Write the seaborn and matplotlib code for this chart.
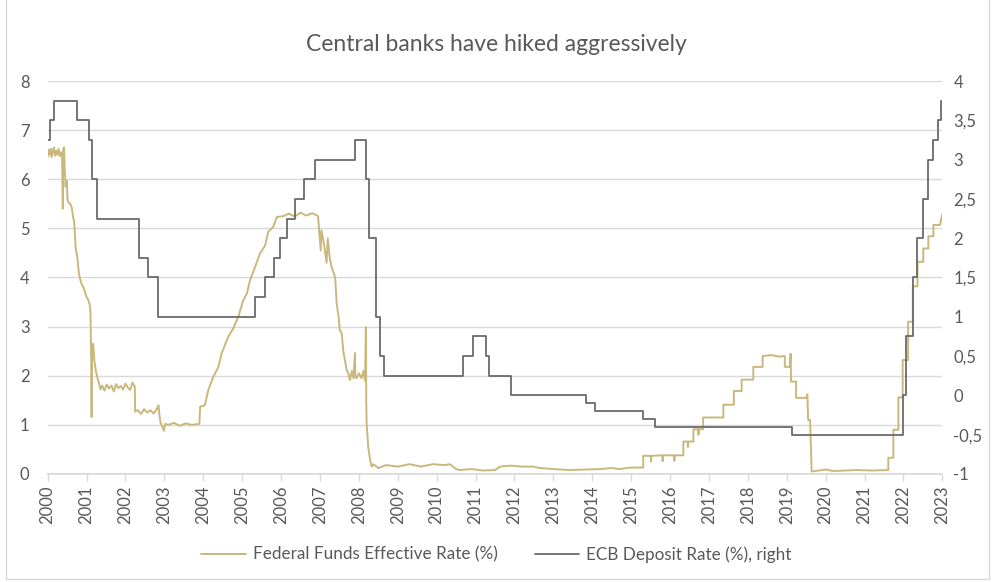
import pandas as pd
import seaborn as sns
import matplotlib
matplotlib.use("Agg")
import matplotlib.pyplot as plt
from matplotlib.lines import Line2D
from matplotlib.patches import Rectangle

# years since 2000 (position on the category axis) and rate
fed_years = [0.00, 0.03, 0.05, 0.08, 0.10, 0.13, 0.16, 0.19, 0.22, 0.25, 0.28, 0.31, 0.34, 0.37, 0.39, 0.40,
             0.42, 0.44, 0.46, 0.49, 0.51, 0.53, 0.58, 0.62, 0.66, 0.68, 0.70, 0.72, 0.76, 0.80, 0.83, 0.88,
             0.92, 0.96, 1.00, 1.04, 1.08, 1.10, 1.12, 1.13, 1.14, 1.17, 1.20, 1.24, 1.28, 1.32, 1.36, 1.40,
             1.46, 1.52, 1.58, 1.64, 1.70, 1.76, 1.82, 1.88, 1.94, 2.00, 2.06, 2.12, 2.18, 2.24, 2.25, 2.32,
             2.40, 2.48, 2.56, 2.64, 2.72, 2.80, 2.85, 2.87, 2.90, 2.99, 3.02, 3.10, 3.25, 3.40, 3.55, 3.70,
             3.90, 3.92, 4.04, 4.13, 4.26, 4.39, 4.47, 4.64, 4.77, 4.90, 5.03, 5.12, 5.20, 5.33, 5.46, 5.59,
             5.67, 5.80, 5.89, 6.06, 6.20, 6.35, 6.50, 6.65, 6.80, 6.95, 7.02, 7.04, 7.10, 7.17, 7.20, 7.25,
             7.30, 7.35, 7.39, 7.43, 7.48, 7.51, 7.56, 7.60, 7.64, 7.69, 7.73, 7.77, 7.82, 7.86, 7.90, 7.91,
             7.94, 8.00, 8.07, 8.12, 8.16, 8.18, 8.19, 8.20, 8.24, 8.29, 8.33, 8.37, 8.50, 8.70, 9.00, 9.30,
             9.60, 9.90, 10.20, 10.34, 10.50, 10.60, 10.90, 11.20, 11.50, 11.63, 11.90, 12.20, 12.48, 12.66, 13.00, 13.40,
             13.80, 14.20, 14.50, 14.70, 14.97, 15.31, 15.31, 15.50, 15.51, 15.52, 15.80, 15.81, 15.82, 16.10, 16.11, 16.12,
             16.34, 16.34, 16.45, 16.46, 16.47, 16.60, 16.60, 16.72, 16.73, 16.74, 16.85, 16.85, 17.10, 17.37, 17.37, 17.64,
             17.64, 17.84, 17.84, 18.14, 18.14, 18.38, 18.38, 18.60, 18.80, 18.95, 18.95, 19.08, 19.10, 19.11, 19.24, 19.24,
             19.51, 19.53, 19.55, 19.60, 19.64, 19.90, 20.00, 20.20, 20.50, 20.80, 21.20, 21.61, 21.61, 21.74, 21.74, 21.87,
             21.87, 21.98, 21.98, 22.12, 22.12, 22.24, 22.24, 22.36, 22.36, 22.51, 22.51, 22.64, 22.64, 22.77, 22.77, 22.94,
             23.00]
fed_rates = [6.45, 6.60, 6.50, 6.62, 6.45, 6.55, 6.65, 6.48, 6.58, 6.50, 6.62, 6.47, 6.55, 6.50, 5.40, 6.60,
             6.65, 6.20, 5.85, 5.97, 5.60, 5.53, 5.50, 5.42, 5.20, 5.15, 4.90, 4.60, 4.42, 4.10, 3.98, 3.85,
             3.80, 3.70, 3.60, 3.55, 3.45, 3.30, 2.30, 1.16, 2.50, 2.65, 2.30, 2.10, 1.95, 1.85, 1.72, 1.80,
             1.70, 1.82, 1.74, 1.80, 1.68, 1.83, 1.75, 1.79, 1.72, 1.84, 1.76, 1.71, 1.86, 1.78, 1.27, 1.30,
             1.22, 1.32, 1.25, 1.30, 1.23, 1.31, 1.40, 1.22, 1.05, 0.88, 1.02, 1.00, 1.04, 0.98, 1.03, 1.00,
             1.02, 1.37, 1.40, 1.71, 1.98, 2.18, 2.45, 2.79, 2.96, 3.20, 3.54, 3.67, 3.94, 4.21, 4.49, 4.65,
             4.93, 5.03, 5.23, 5.25, 5.30, 5.24, 5.32, 5.26, 5.31, 5.25, 4.55, 4.96, 4.70, 4.30, 4.80, 4.40,
             4.21, 4.10, 4.00, 3.47, 3.20, 2.93, 2.86, 2.50, 2.32, 2.11, 2.05, 1.91, 2.10, 1.95, 2.46, 1.98,
             1.95, 2.05, 1.95, 2.10, 1.90, 2.99, 1.50, 1.03, 0.56, 0.28, 0.15, 0.20, 0.12, 0.18, 0.15, 0.20,
             0.15, 0.20, 0.18, 0.20, 0.10, 0.08, 0.10, 0.07, 0.08, 0.15, 0.17, 0.15, 0.15, 0.12, 0.10, 0.08,
             0.09, 0.10, 0.12, 0.10, 0.13, 0.13, 0.37, 0.37, 0.25, 0.37, 0.38, 0.26, 0.38, 0.38, 0.27, 0.38,
             0.38, 0.66, 0.66, 0.55, 0.66, 0.66, 0.91, 0.91, 0.80, 0.91, 0.91, 1.15, 1.15, 1.15, 1.41, 1.41,
             1.69, 1.69, 1.92, 1.92, 2.18, 2.18, 2.40, 2.42, 2.39, 2.40, 2.18, 2.18, 2.45, 1.88, 1.88, 1.55,
             1.55, 1.62, 1.10, 1.10, 0.05, 0.08, 0.09, 0.06, 0.07, 0.08, 0.07, 0.08, 0.33, 0.33, 0.90, 0.90,
             1.56, 1.56, 2.32, 2.32, 3.10, 3.10, 3.82, 3.82, 4.32, 4.32, 4.59, 4.59, 4.84, 4.84, 5.07, 5.07,
             5.30]

# ECB deposit rate: each value holds from its year until the next one (step line)
ecb_years = [0.00, 0.06, 0.17, 0.76, 1.07, 1.13, 1.26, 2.35, 2.59, 2.84, 5.34, 5.59, 5.82, 5.97, 6.16,
             6.36, 6.60, 6.87, 7.90, 8.18, 8.26, 8.44, 8.54, 8.64, 10.68, 10.93, 11.27, 11.35, 11.91,
             13.84, 14.07, 15.30, 15.61, 19.13, 21.99, 22.06, 22.24, 22.35, 22.50, 22.63, 22.76, 22.89,
             22.96, 23.00]
ecb_rates = [3.25, 3.50, 3.75, 3.50, 3.25, 2.75, 2.25, 1.75, 1.50, 1.00, 1.25, 1.50, 1.75, 2.00, 2.25,
             2.50, 2.75, 3.00, 3.25, 2.75, 2.00, 1.00, 0.50, 0.25, 0.50, 0.75, 0.50, 0.25, 0.00,
             -0.10, -0.20, -0.30, -0.40, -0.50, 0.00, 0.75, 1.50, 2.00, 2.50, 3.00, 3.25, 3.50,
             3.75, 3.75]

year_labels = [str(y) for y in range(2000, 2024)]
left_ticks = [0, 1, 2, 3, 4, 5, 6, 7, 8]
right_ticks = [-1, -0.5, 0, 0.5, 1, 1.5, 2, 2.5, 3, 3.5, 4]

fed_color = "#C9B87B"
ecb_color = "#6A6A6A"
text_color = "#595959"
grid_color = "#D9D9D9"

df_fed = pd.DataFrame({"year": fed_years, "rate": fed_rates})
df_ecb = pd.DataFrame({"year": ecb_years, "rate": ecb_rates})

sns.set_theme(style="white")
plt.rcParams["font.family"] = ["Lato", "DejaVu Sans"]

fig = plt.figure(figsize=(9.93, 5.82), dpi=100)
ax = fig.add_axes([0.048, 0.1856, 0.901, 0.6752])
ax2 = ax.twinx()

sns.lineplot(data=df_fed, x="year", y="rate", ax=ax, estimator=None, sort=False,
             color=fed_color, linewidth=1.4)
sns.lineplot(data=df_ecb, x="year", y="rate", ax=ax2, estimator=None, sort=False,
             color=ecb_color, linewidth=1.3, drawstyle="steps-post")

ax.set_xlim(0, 23)
ax.set_ylim(0, 8)
ax2.set_ylim(-1, 4)
ax.set_xticks(range(len(year_labels)))
ax.set_xticklabels(year_labels, rotation=90)
ax.set_yticks(left_ticks)
ax2.set_yticks(right_ticks)
ax2.set_yticklabels([("%g" % v).replace(".", ",") for v in right_ticks])
ax.set_xlabel("")
ax.set_ylabel("")
ax2.set_ylabel("")

ax.grid(axis="y", color=grid_color, linewidth=1)
ax.set_axisbelow(True)
for a in (ax, ax2):
    for side in ("left", "right", "top"):
        a.spines[side].set_visible(False)
    a.spines["bottom"].set_color(grid_color)
ax2.spines["bottom"].set_visible(False)

ax.tick_params(axis="x", colors=text_color, labelsize=12, length=5, width=1,
               color=grid_color, direction="out", bottom=True, pad=3)
ax.tick_params(axis="y", colors=text_color, labelsize=12, length=0, pad=13)
ax2.tick_params(axis="y", colors=text_color, labelsize=12, length=0, pad=8)

fig.text(0.5, 0.924, "Central banks have hiked aggressively", ha="center", va="center",
         fontsize=16.5, color=text_color)

handles = [Line2D([], [], color=fed_color, linewidth=1.4),
           Line2D([], [], color=ecb_color, linewidth=1.3)]
fig.legend(handles, ["Federal Funds Effective Rate (%)", "ECB Deposit Rate (%), right"],
           loc="center", bbox_to_anchor=(0.5, 0.047), ncol=2, frameon=False,
           fontsize=12.3, labelcolor=text_color, handlelength=2.6, handletextpad=0.4,
           columnspacing=2.2)

fig.patches.append(Rectangle((0.006, 0.006), 0.99, 1.2, transform=fig.transFigure,
                             fill=False, edgecolor=grid_color, linewidth=1))

fig.savefig("out.png", dpi=100)
